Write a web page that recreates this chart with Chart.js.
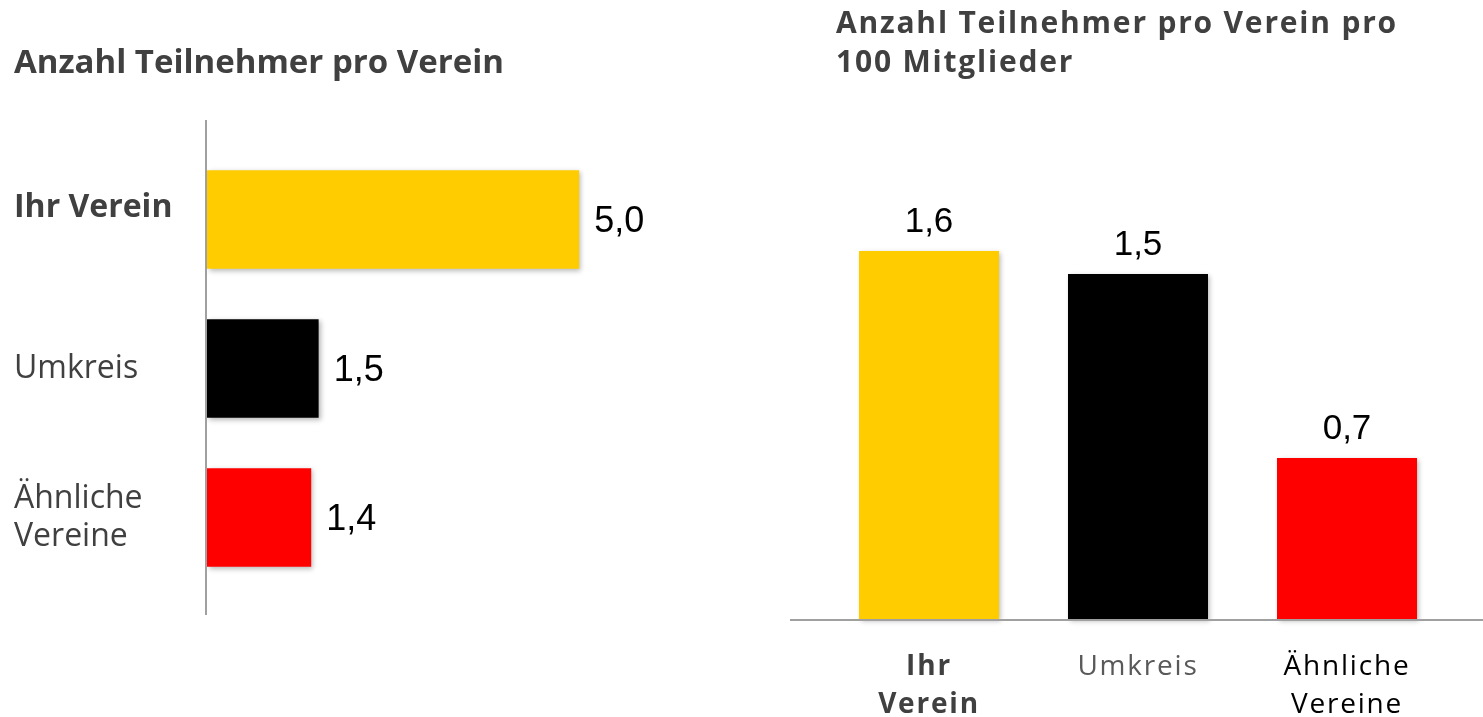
<!DOCTYPE html>
<html>
<head>
<meta charset="utf-8">
<script src="https://cdn.jsdelivr.net/npm/chart.js@4/dist/chart.umd.min.js"></script>
<style>
  html, body { margin: 0; padding: 0; background: #ffffff; }
  body { width: 1483px; height: 717px; position: relative; overflow: hidden; }
  #leftBox { position: absolute; left: 0; top: 0; width: 760px; height: 717px; }
  #rightBox { position: absolute; left: 780px; top: 0; width: 703px; height: 717px; }
</style>
</head>
<body>
<div id="leftBox"><canvas id="leftChart"></canvas></div>
<div id="rightBox"><canvas id="rightChart"></canvas></div>
<script>
// ---- data ----
const leftTitle = 'Anzahl Teilnehmer pro Verein';
const leftCategories = [['Ihr Verein', ''], 'Umkreis', ['Ähnliche', 'Vereine']];
const leftValues = [5.0, 1.5, 1.4];

const rightTitle = ['Anzahl Teilnehmer pro Verein pro', '100 Mitglieder'];
const rightCategories = [['Ihr', 'Verein'], 'Umkreis', ['Ähnliche', 'Vereine']];
const rightValues = [1.6, 1.5, 0.7];

const barColors = ['#FFCC00', '#000000', '#FF0000'];
const leftLabelColors = ['#404040', '#404040', '#404040'];
const rightLabelColors = ['#404040', '#595959', '#000000'];

function fmt(v) { return v.toFixed(1).replace('.', ','); }

// ---- plugins ----
const shadowPlugin = {
  id: 'barShadow',
  beforeDatasetsDraw(chart) {
    const ctx = chart.ctx;
    ctx.save();
    ctx.shadowColor = 'rgba(0,0,0,0.28)';
    ctx.shadowBlur = 5;
    ctx.shadowOffsetX = 2;
    ctx.shadowOffsetY = 2;
  },
  afterDatasetsDraw(chart) { chart.ctx.restore(); }
};

const leftDecor = {
  id: 'leftDecor',
  afterDraw(chart) {
    const ctx = chart.ctx;
    const area = chart.chartArea;
    const x0 = chart.scales.x.getPixelForValue(0) - 1;
    ctx.save();
    ctx.strokeStyle = '#A0A0A0';
    ctx.lineWidth = 2;
    ctx.beginPath();
    ctx.moveTo(x0, area.top - 25);
    ctx.lineTo(x0, area.bottom + 23);
    ctx.stroke();
    const meta = chart.getDatasetMeta(0);
    ctx.fillStyle = '#000000';
    const size = 36;
    ctx.font = size + 'px "Liberation Sans", Arial, sans-serif';
    ctx.textAlign = 'left';
    ctx.textBaseline = 'alphabetic';
    meta.data.forEach((bar, i) => {
      ctx.fillText(fmt(leftValues[i]), bar.x + 15, bar.y + size * 0.36);
    });
    ctx.restore();
  }
};

const spacingPlugin = {
  id: 'spacing',
  beforeDraw(chart) {
    chart.ctx.letterSpacing = '1.8px';
  }
};

const rightDecor = {
  id: 'rightDecor',
  afterDraw(chart) {
    const ctx = chart.ctx;
    const y0 = chart.scales.y.getPixelForValue(0) + 1;
    ctx.save();
    ctx.letterSpacing = '0px';
    ctx.strokeStyle = '#A0A0A0';
    ctx.lineWidth = 2;
    ctx.beginPath();
    ctx.moveTo(10, y0);
    ctx.lineTo(chart.width, y0);
    ctx.stroke();
    const meta = chart.getDatasetMeta(0);
    ctx.fillStyle = '#000000';
    ctx.font = '35px "Liberation Sans", Arial, sans-serif';
    ctx.textAlign = 'center';
    ctx.textBaseline = 'alphabetic';
    meta.data.forEach((bar, i) => {
      ctx.fillText(fmt(rightValues[i]), bar.x, bar.y - 19);
    });
    ctx.restore();
  }
};

// ---- left chart ----
new Chart(document.getElementById('leftChart'), {
  type: 'bar',
  data: {
    labels: leftCategories,
    datasets: [{
      data: leftValues,
      backgroundColor: barColors,
      borderWidth: 0,
      barPercentage: 1.0,
      categoryPercentage: 0.66
    }]
  },
  options: {
    indexAxis: 'y',
    responsive: true,
    maintainAspectRatio: false,
    animation: false,
    events: [],
    layout: { padding: { left: 14, right: 32, top: 0, bottom: 125 } },
    plugins: {
      legend: { display: false },
      tooltip: { enabled: false },
      title: {
        display: true,
        text: leftTitle,
        align: 'start',
        color: '#404040',
        font: { family: '"Open Sans", sans-serif', size: 33, weight: 'bold', lineHeight: '38px' },
        padding: { top: 45, bottom: 62 }
      }
    },
    scales: {
      x: { display: false, min: 0, max: 7 },
      y: {
        grid: { display: false, drawTicks: false },
        border: { display: false },
        afterFit(scale) { scale.width = 193; },
        ticks: {
          crossAlign: 'far',
          padding: 0,
          color: (c) => leftLabelColors[c.index],
          font: (c) => ({
            family: '"Open Sans", sans-serif',
            size: 32,
            weight: c.index === 0 ? 'bold' : 'normal',
            lineHeight: c.index === 0 ? '24px' : '38px'
          })
        }
      }
    }
  },
  plugins: [shadowPlugin, leftDecor]
});

// ---- right chart ----
new Chart(document.getElementById('rightChart'), {
  type: 'bar',
  data: {
    labels: rightCategories,
    datasets: [{
      data: rightValues,
      backgroundColor: barColors,
      borderWidth: 0,
      barPercentage: 1.0,
      categoryPercentage: 0.67,
      clip: false
    }]
  },
  options: {
    responsive: true,
    maintainAspectRatio: false,
    animation: false,
    events: [],
    layout: { padding: { left: 56, right: 0, top: 0, bottom: 0 } },
    plugins: {
      legend: { display: false },
      tooltip: { enabled: false },
      title: {
        display: true,
        text: rightTitle,
        align: 'start',
        color: '#404040',
        font: { family: '"Open Sans", sans-serif', size: 30, weight: 'bold', lineHeight: '39px' },
        padding: { top: 5, bottom: 76 }
      }
    },
    scales: {
      y: {
        display: true,
        min: 0, max: 2,
        grid: { display: false, drawTicks: false },
        border: { display: false },
        ticks: { display: false },
        afterFit(scale) { scale.width = 93; }
      },
      yRight: {
        position: 'right',
        display: true,
        grid: { display: false, drawTicks: false },
        border: { display: false },
        ticks: { display: false },
        afterFit(scale) { scale.width = 136; }
      },
      x: {
        offset: false,
        grid: { display: false, drawTicks: false },
        border: { display: false },
        afterFit(scale) { scale.height = 98; scale.paddingLeft = 0; scale.paddingRight = 0; },
        ticks: {
          padding: 29,
          maxRotation: 0,
          autoSkip: false,
          color: (c) => rightLabelColors[c.index],
          font: (c) => ({
            family: '"Open Sans", sans-serif',
            size: 28,
            weight: c.index === 0 ? 'bold' : 'normal',
            lineHeight: '38px'
          })
        }
      }
    }
  },
  plugins: [spacingPlugin, shadowPlugin, rightDecor]
});
</script>
</body>
</html>
